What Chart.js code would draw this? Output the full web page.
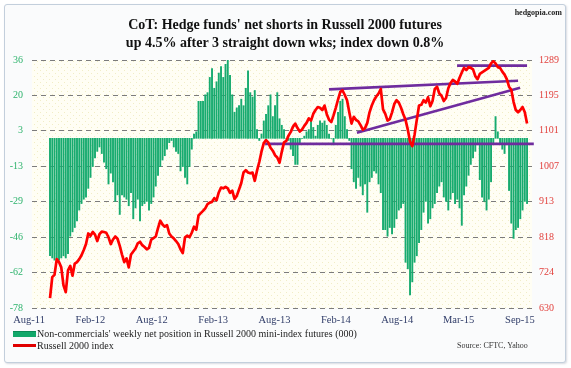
<!DOCTYPE html>
<html>
<head>
<meta charset="utf-8">
<script src="https://cdn.jsdelivr.net/npm/chart.js@4.4.0/dist/chart.umd.min.js"></script>
<style>
html,body{margin:0;padding:0;background:#ffffff;}
#wrap{position:relative;width:571px;height:368px;overflow:hidden;font-family:"Liberation Serif","Times New Roman",serif;}
#frame{position:absolute;left:4px;top:4px;width:560px;height:357px;border:1px solid #c3cfdc;border-radius:3px;background:#fafbfc;box-shadow:1px 1px 2px rgba(140,150,170,0.35);}
#c{position:absolute;left:0;top:0;}
.t{position:absolute;white-space:nowrap;}
#title{left:35px;width:500px;top:16px;text-align:center;font-weight:bold;font-size:14px;line-height:18px;color:#111;}
#site{right:9px;top:8px;font-weight:bold;font-size:8px;color:#222;}
.sw{position:absolute;}
.lg{font-size:10px;line-height:12px;color:#222;}
#src{left:457px;top:341px;font-size:8px;color:#333;}
</style>
</head>
<body>
<div id="wrap">
  <div id="frame"></div>
  <canvas id="c" width="571" height="368"></canvas>
  <div class="t" id="title">CoT: Hedge funds' net shorts in Russell 2000 futures<br>up 4.5% after 3 straight down wks; index down 0.8%</div>
  <div class="t" id="site">hedgopia.com</div>
  <div class="sw" style="left:13px;top:331px;width:23px;height:5px;background:#12a86a;border-top:1px solid #0b8a55;"></div>
  <div class="t lg" style="left:37px;top:328px;">Non-commercials' weekly net position in Russell 2000 mini-index futures (000)</div>
  <div class="sw" style="left:13px;top:344px;width:23px;height:3px;background:#e00000;"></div>
  <div class="t lg" style="left:37px;top:340px;">Russell 2000 index</div>
  <div class="t" id="src">Source: CFTC, Yahoo</div>
</div>
<script>
// ---- data (weekly, Aug 2011 - Sep 2015) ----
const xTickLabels = ["Aug-11","Feb-12","Aug-12","Feb-13","Aug-13","Feb-14","Aug-14","Mar-15","Sep-15"];
const leftTickLabels = [-78,-62,-46,-29,-13,3,20,36];
const rightTickLabels = [630,724,818,913,1007,1101,1195,1289];

// Non-commercials' net position (000 contracts)
const cotNet = [
 -54,-55,-56,-55,-56,-55,-54,-55,-53,-45,
 -43,-41,-38,-33,-30,-28,-27,-23,-18,-13,
 -9,-6,-4,-7,-11,-14,-21,-16,-20,-29,
 -26,-35,-26,-27,-28,-31,-25,-37,-32,-28,
 -38,-31,-30,-29,-33,-30,-27,-22,-17,-13,
 -10,-8,-5,-2,-1,-4,-6,-7,-15,-13,
 -18,-21,-13,-5,2,3,17,17,17,20,
 21,28,32,23,26,30,33,28,34,36,
 29,20,12,14,15,18,15,23,31,21,
 19,22,4,-1,2,8,11,15,20,10,
 15,21,9,6,4,0,-1,-5,-8,-12,
 -12,-2,0,1,3,4,8,5,1,6,
 8,7,8,6,2,0,-3,6,12,17,
 18,10,4,-1,-14,-20,-23,-18,-22,-26,
 -21,-34,-20,-18,-15,-16,-21,-25,-42,-42,
 -45,-41,-44,-41,-37,-33,-32,-30,-57,-60,
 -72,-66,-57,-54,-48,-42,-34,-29,-39,-37,
 -32,-30,-25,-22,-20,-27,-29,-33,-28,-25,
 -30,-28,-32,-40,-26,-22,-17,-12,-9,-6,
 -3,-19,-27,-29,-33,-28,-20,-2,10,3,
 -2,-5,-7,-3,-24,-39,-46,-42,-41,-37,
 -33,-29,-30];

// Russell 2000 index (weekly)
const r2000 = [
 656,712,718,760,752,738,690,672,730,742,
 716,748,752,760,770,784,800,828,822,832,
 825,808,826,833,832,830,818,800,812,820,
 814,795,772,752,762,738,772,780,788,802,
 806,797,792,786,790,812,816,820,842,862,
 852,846,850,828,820,815,808,800,786,776,
 818,822,818,830,846,838,876,882,888,895,
 906,910,912,922,916,937,950,948,952,948,
 936,942,920,928,945,962,990,996,990,988,
 990,968,995,1018,1046,1068,1076,1070,1056,1048,
 1036,1030,1016,1045,1070,1074,1088,1098,1112,1120,
 1108,1099,1104,1114,1122,1134,1128,1146,1156,1164,
 1162,1156,1168,1145,1130,1124,1142,1162,1184,1204,
 1208,1196,1182,1150,1120,1138,1130,1126,1116,1104,
 1108,1122,1150,1168,1182,1192,1200,1212,1158,1146,
 1128,1132,1150,1172,1182,1176,1162,1145,1130,1104,
 1072,1060,1090,1130,1168,1170,1182,1176,1190,1166,
 1180,1212,1218,1200,1194,1180,1188,1214,1228,1236,
 1232,1226,1242,1256,1268,1262,1270,1268,1264,1246,
 1238,1252,1256,1260,1264,1268,1280,1286,1280,1270,
 1268,1258,1250,1238,1218,1210,1178,1156,1150,1156,
 1164,1150,1120];

// trend lines drawn on the chart (week index, index level)
const supportLineX = [95.6, 215];   const supportLineY = [1066, 1066];
const upperLineX   = [124, 208];    const upperLineY   = [1211, 1234];
const risingLineX  = [136.4, 208.9];const risingLineY  = [1096, 1215];
const topLineX     = [180.9, 212];  const topLineY     = [1274, 1274];

// ---- chart ----
const SERIF = "'Liberation Serif','Times New Roman',serif";
const toXY = (xs, ys) => xs.map((x, i) => ({x: x, y: ys[i]}));
const weekly = arr => arr.map((v, i) => ({x: i, y: v}));

function makePattern(){
  const p = document.createElement('canvas'); p.width = 6; p.height = 6;
  const g = p.getContext('2d');
  g.fillStyle = '#fffef4'; g.fillRect(0,0,6,6);
  g.fillStyle = '#f1edc6'; g.fillRect(1,1,1,1); g.fillRect(4,4,1,1);
  return p;
}
const bgPlugin = {
  id: 'plotBg',
  beforeDraw(chart){
    const {ctx, chartArea: a} = chart;
    ctx.save();
    ctx.fillStyle = ctx.createPattern(makePattern(), 'repeat');
    ctx.fillRect(a.left, a.top, a.right - a.left, a.bottom - a.top);
    ctx.restore();
  }
};

const purple = '#6f2c9e';
function trend(xs, ys){
  return {type:'line', data: toXY(xs, ys), yAxisID:'y1', borderColor: purple, borderWidth: 2.6,
          pointRadius: 0, tension: 0, order: 1, clip: 4};
}

const X_MIN = -8, X_MAX = 214.2, X_TICK_START = -9.3, X_TICK_STEP = 27.27;

new Chart(document.getElementById('c'), {
  type: 'bar',
  data: {
    datasets: [
      {type:'line', label:'Russell 2000 index', data: weekly(r2000), yAxisID:'y1',
       borderColor:'#ff0000', borderWidth:2.7, pointRadius:0, tension:0, order:0,
       borderJoinStyle:'round'},
      trend(supportLineX, supportLineY),
      trend(upperLineX, upperLineY),
      trend(risingLineX, risingLineY),
      trend(topLineX, topLineY),
      {type:'bar', label:"Non-commercials' weekly net position in Russell 2000 mini-index futures (000)",
       data: weekly(cotNet), yAxisID:'y', backgroundColor:'#17ab6f', borderWidth:0,
       barThickness:1.25, order:2}
    ]
  },
  options: {
    responsive:false, animation:false, devicePixelRatio:1,
    layout:{padding:{top:60, bottom:38, left:0, right:0}},
    plugins:{legend:{display:false}, tooltip:{enabled:false}, title:{display:false}},
    scales:{
      x:{type:'linear', min:X_MIN, max:X_MAX, offset:false,
         grid:{display:false, drawTicks:false}, border:{display:false},
         afterBuildTicks: s => { s.ticks = xTickLabels.map((l,k) => ({value: X_TICK_START + k*X_TICK_STEP})); },
         afterFit: s => { s.height = 22; },
         ticks:{autoSkip:false, maxRotation:0, minRotation:0, padding:6, color:'#34406b',
                font:{family:SERIF, size:10.5}, callback:(v, i) => xTickLabels[i]}},
      y:{type:'linear', position:'left', min:-78, max:36,
         afterBuildTicks: s => { s.ticks = leftTickLabels.map((l,k) => ({value: -78 + k*114/7})); },
         afterFit: s => { s.width = 32; },
         grid:{color:'#7c7c7c', lineWidth:1, drawTicks:false},
         border:{display:false, dash:[5,4]},
         ticks:{padding:9, color:'#2db36c', font:{family:SERIF, size:10}, callback:(v, i) => leftTickLabels[i]}},
      y1:{type:'linear', position:'right', min:630, max:1289,
         afterBuildTicks: s => { s.ticks = rightTickLabels.map((l,k) => ({value: 630 + k*659/7})); },
         afterFit: s => { s.width = 39; },
         grid:{display:false, drawTicks:false}, border:{display:false},
         ticks:{padding:7, color:'#e2403c', font:{family:SERIF, size:10}, callback:(v, i) => rightTickLabels[i]}}
    }
  },
  plugins:[bgPlugin]
});
</script>
</body>
</html>
